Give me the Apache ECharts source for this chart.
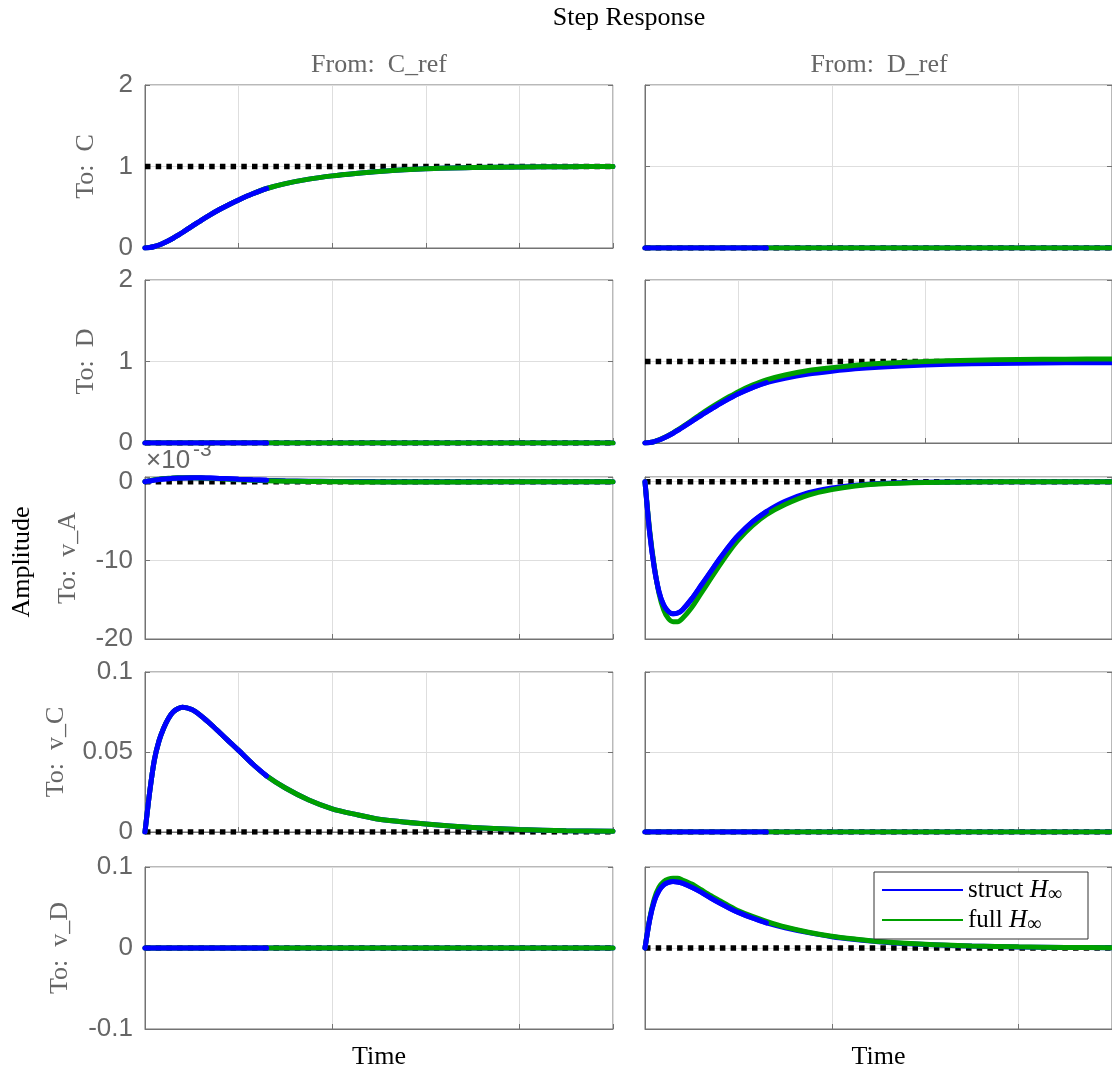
<!DOCTYPE html>
<html>
<head>
    <meta charset="utf-8">
    <title>Step Response</title>
    <script src="https://cdn.jsdelivr.net/npm/echarts@6/dist/echarts.min.js"></script>
    <style>
        html, body { margin: 0; padding: 0; background: #fff; }
        #main { width: 1112px; height: 1077px; }
    </style>
</head>
<body>
    <div id="main"></div>
    <script>
        // normalized time axis (no tick labels on the original)
        var time = [0, 0.01, 0.02, 0.03, 0.04, 0.05, 0.06, 0.07, 0.08, 0.10, 0.12, 0.14, 0.16, 0.18,
                    0.20, 0.23, 0.26, 0.30, 0.35, 0.40, 0.45, 0.50, 0.60, 0.70, 0.80, 0.90, 1.00];
        // index up to which the blue trace sits on top of the green one
        var blueTopEnd = 16;

        var inputs = ['C_ref', 'D_ref'];
        var outputs = ['C', 'D', 'v_A', 'v_C', 'v_D'];

        var yMin = [0, 0, -20, 0, -0.1];
        var yMax = [2, 2, 0.6, 0.1, 0.1];
        var yStep = [1, 1, 10, 0.05, 0.1];

        // steady state (dotted) per output, for each input
        var steadyCref = [1, 0, 0, 0, 0];
        var steadyDref = [0, 1, 0, 0, 0];

        var zeroResponse = [0, 0, 0, 0, 0, 0, 0, 0, 0, 0, 0, 0, 0, 0, 0, 0, 0, 0, 0, 0, 0, 0, 0, 0, 0, 0, 0];

        // From C_ref
        var structC_Cref = [0, 0.005, 0.018, 0.037, 0.062, 0.09, 0.12, 0.155, 0.19, 0.265, 0.34, 0.41, 0.475, 0.535,
                            0.59, 0.665, 0.73, 0.79, 0.845, 0.885, 0.915, 0.94, 0.972, 0.987, 0.994, 0.998, 1.0];
        var fullC_Cref   = [0, 0.005, 0.018, 0.037, 0.062, 0.09, 0.12, 0.155, 0.19, 0.265, 0.34, 0.41, 0.475, 0.535,
                            0.59, 0.665, 0.73, 0.79, 0.845, 0.885, 0.915, 0.94, 0.972, 0.987, 0.994, 0.998, 1.0];
        // v_A in units of 1e-3
        var structVA_Cref = [0, 0.1, 0.2, 0.28, 0.34, 0.39, 0.43, 0.46, 0.48, 0.5, 0.49, 0.46, 0.42, 0.37,
                             0.32, 0.25, 0.19, 0.12, 0.07, 0.04, 0.02, 0.01, 0, 0, 0, 0, 0];
        var fullVA_Cref   = [0, 0.12, 0.24, 0.33, 0.4, 0.45, 0.48, 0.5, 0.51, 0.5, 0.47, 0.42, 0.37, 0.31,
                             0.26, 0.19, 0.13, 0.07, 0.03, 0, -0.02, -0.03, -0.03, -0.02, -0.01, 0, 0];
        var structVC_Cref = [0, 0.025, 0.045, 0.057, 0.065, 0.071, 0.075, 0.077, 0.078, 0.0765, 0.0725, 0.0675, 0.062, 0.0565,
                             0.051, 0.0425, 0.035, 0.0275, 0.020, 0.0145, 0.011, 0.008, 0.005, 0.0028, 0.0015, 0.0008, 0.0004];
        var fullVC_Cref   = [0, 0.025, 0.045, 0.057, 0.065, 0.071, 0.075, 0.077, 0.078, 0.0765, 0.0725, 0.0675, 0.062, 0.0565,
                             0.051, 0.0425, 0.035, 0.0275, 0.020, 0.0145, 0.011, 0.008, 0.005, 0.0028, 0.0015, 0.0008, 0.0004];

        // From D_ref
        var structD_Dref = [0, 0.005, 0.018, 0.037, 0.062, 0.09, 0.12, 0.155, 0.19, 0.265, 0.34, 0.41, 0.48, 0.545,
                            0.605, 0.68, 0.74, 0.795, 0.845, 0.88, 0.91, 0.93, 0.958, 0.972, 0.98, 0.984, 0.986];
        var fullD_Dref   = [0, 0.005, 0.018, 0.038, 0.064, 0.093, 0.125, 0.16, 0.197, 0.275, 0.355, 0.43, 0.50, 0.567,
                            0.63, 0.71, 0.775, 0.835, 0.89, 0.925, 0.955, 0.975, 1.0, 1.015, 1.024, 1.029, 1.032];
        var structVA_Dref = [0, -6.5, -11.0, -14.0, -15.7, -16.5, -16.8, -16.7, -16.3, -14.9, -13.2, -11.5, -9.8, -8.2,
                             -6.8, -5.1, -3.8, -2.5, -1.4, -0.8, -0.45, -0.22, -0.06, -0.01, 0, 0, 0];
        var fullVA_Dref   = [0, -6.2, -10.8, -14.2, -16.3, -17.4, -17.8, -17.8, -17.4, -16.0, -14.2, -12.4, -10.6, -8.9,
                             -7.4, -5.6, -4.2, -2.9, -1.7, -1.0, -0.55, -0.3, -0.1, -0.03, -0.01, 0, 0];
        var structVD_Dref = [0, 0.035, 0.058, 0.071, 0.078, 0.081, 0.082, 0.0815, 0.080, 0.075, 0.069, 0.062, 0.0555, 0.0495,
                             0.044, 0.037, 0.031, 0.025, 0.019, 0.014, 0.0105, 0.0078, 0.0043, 0.0024, 0.0013, 0.0007, 0.0004];
        var fullVD_Dref   = [0, 0.036, 0.061, 0.075, 0.082, 0.085, 0.086, 0.086, 0.084, 0.079, 0.072, 0.065, 0.0585, 0.052,
                             0.046, 0.039, 0.033, 0.026, 0.0195, 0.0145, 0.011, 0.008, 0.0045, 0.0025, 0.0014, 0.0007, 0.0004];

        var structResp = [
            [structC_Cref, zeroResponse],
            [zeroResponse, structD_Dref],
            [structVA_Cref, structVA_Dref],
            [structVC_Cref, zeroResponse],
            [zeroResponse, structVD_Dref]
        ];
        var fullResp = [
            [fullC_Cref, zeroResponse],
            [zeroResponse, fullD_Dref],
            [fullVA_Cref, fullVA_Dref],
            [fullVC_Cref, zeroResponse],
            [zeroResponse, fullVD_Dref]
        ];
        var steady = [steadyCref, steadyDref];

        // layout
        var colLeft = [145, 645];
        var plotWidth = 468;
        var rowTop = [85, 280, 477, 672, 867];
        var rowHeight = [163, 163, 162, 160, 162];
        var xGridStep = [[0.2, 0.4], [0.4, 0.2], [0.4, 0.4], [0.2, 0.4], [0.4, 0.4]];
        var nameGap = [46, 46, 64, 76, 72];

        var BLUE = '#0000ff', GREEN = '#00a000', AXIS = '#737373', GRIDC = '#dedede', TEXT = '#666666';
        var SERIF = 'Liberation Serif', SANS = 'Liberation Sans';

        function pairs(ys, n) {
            var out = [];
            for (var i = 0; i < n; i++) out.push([time[i], ys[i]]);
            return out;
        }

        var grids = [], xAxes = [], yAxes = [], series = [];

        for (var r = 0; r < 5; r++) {
            for (var c = 0; c < 2; c++) {
                var k = grids.length;
                var step = yStep[r];
                grids.push({
                    left: colLeft[c], top: rowTop[r], width: plotWidth, height: rowHeight[r],
                    show: true, borderColor: AXIS, borderWidth: 1, backgroundColor: 'transparent'
                });
                xAxes.push({
                    gridIndex: k, type: 'value', min: 0, max: 1, interval: xGridStep[r][c],
                    axisLabel: { show: false },
                    axisTick: { inside: true, length: 5, lineStyle: { color: AXIS } },
                    axisLine: { onZero: false, lineStyle: { color: AXIS } },
                    splitLine: { show: true, lineStyle: { color: GRIDC } },
                    name: r === 4 ? 'Time' : '', nameLocation: 'middle', nameGap: 15,
                    nameTextStyle: { color: '#000', fontFamily: SERIF, fontSize: 26 }
                });
                yAxes.push({
                    gridIndex: k, type: 'value', min: yMin[r], max: yMax[r], interval: step,
                    axisLabel: {
                        show: c === 0, color: TEXT, fontFamily: SANS, fontSize: 26, margin: 12,
                        formatter: (function (s) {
                            return function (v) {
                                var q = v / s;
                                return Math.abs(q - Math.round(q)) < 1e-6 ? String(+v.toFixed(4)) : '';
                            };
                        })(step)
                    },
                    axisTick: { inside: true, length: 5, lineStyle: { color: AXIS } },
                    axisLine: { show: true, lineStyle: { color: AXIS } },
                    splitLine: { show: true, lineStyle: { color: GRIDC } },
                    name: c === 0 ? 'To:  ' + outputs[r] : '', nameLocation: 'middle', nameGap: nameGap[r],
                    nameTextStyle: { color: TEXT, fontFamily: SERIF, fontSize: 26 }
                });
                yAxes.push({
                    gridIndex: k, type: 'value', position: 'right', min: yMin[r], max: yMax[r], interval: step,
                    axisLabel: { show: false },
                    axisTick: { inside: true, length: 5, lineStyle: { color: AXIS } },
                    axisLine: { show: false },
                    splitLine: { show: false }
                });

                var ss = steady[c][r];
                series.push({
                    type: 'line', xAxisIndex: k, yAxisIndex: 2 * k, silent: true, z: 2,
                    symbol: 'none', data: [[time[0], ss], [time[time.length - 1], ss]],
                    lineStyle: { color: '#000', width: 5.5, type: [5.5, 5.2], cap: 'butt' }
                });
                var common = { type: 'line', xAxisIndex: k, yAxisIndex: 2 * k, symbol: 'none', smooth: 0.25 };
                series.push(Object.assign({}, common, {
                    name: 'struct H∞', z: 3, data: pairs(structResp[r][c], time.length),
                    itemStyle: { color: BLUE }, lineStyle: { color: BLUE, width: 5, cap: 'round' }
                }));
                series.push(Object.assign({}, common, {
                    name: 'full H∞', z: 4, data: pairs(fullResp[r][c], time.length),
                    itemStyle: { color: GREEN }, lineStyle: { color: GREEN, width: 5, cap: 'round' }
                }));
                // blue drawn over green for the first part, as in the original render
                series.push(Object.assign({}, common, {
                    name: 'struct H∞', z: 5, data: pairs(structResp[r][c], blueTopEnd + 1),
                    itemStyle: { color: BLUE }, lineStyle: { color: BLUE, width: 5, cap: 'round' }
                }));
            }
        }

        var myChart = echarts.init(document.getElementById('main'));
        var option = {
            animation: false,
            backgroundColor: '#fff',
            grid: grids,
            xAxis: xAxes,
            yAxis: yAxes,
            series: series,
            legend: {
                data: ['struct H∞', 'full H∞'],
                orient: 'vertical',
                left: 874, top: 872,
                padding: [3, 10, 4, 8],
                itemGap: 0,
                itemWidth: 81, itemHeight: 2,
                icon: 'rect',
                backgroundColor: '#fff',
                borderColor: '#333', borderWidth: 1, borderRadius: 0,
                z: 20,
                formatter: function (name) {
                    return name.replace(' H∞', '') + ' {i|H}{s|∞}';
                },
                textStyle: {
                    color: '#000', fontFamily: SERIF, fontSize: 25, lineHeight: 30, width: 110,
                    rich: {
                        i: { fontFamily: SERIF, fontSize: 25, fontStyle: 'italic', color: '#000' },
                        s: { fontFamily: SERIF, fontSize: 20, color: '#000', padding: [10, 0, 0, 0] }
                    }
                }
            },
            graphic: [
                { type: 'text', x: 629, y: 18, style: { text: 'Step Response', align: 'center', verticalAlign: 'middle',
                    fill: '#000', fontFamily: SERIF, fontSize: 26 } },
                { type: 'text', x: colLeft[0] + plotWidth / 2, y: 65, style: { text: 'From:  ' + inputs[0], align: 'center',
                    verticalAlign: 'middle', fill: TEXT, fontFamily: SERIF, fontSize: 26 } },
                { type: 'text', x: colLeft[1] + plotWidth / 2, y: 65, style: { text: 'From:  ' + inputs[1], align: 'center',
                    verticalAlign: 'middle', fill: TEXT, fontFamily: SERIF, fontSize: 26 } },
                { type: 'text', x: 22, y: 562, rotation: Math.PI / 2, style: { text: 'Amplitude', align: 'center',
                    verticalAlign: 'middle', fill: '#000', fontFamily: SERIF, fontSize: 26 } },
                { type: 'text', x: 146, y: 461, style: { text: '×10', align: 'left', verticalAlign: 'middle',
                    fill: TEXT, fontFamily: SANS, fontSize: 26 } },
                { type: 'text', x: 193, y: 450, style: { text: '-3', align: 'left', verticalAlign: 'middle',
                    fill: TEXT, fontFamily: SANS, fontSize: 21 } }
            ]
        };
        myChart.setOption(option);
    </script>
</body>
</html>
